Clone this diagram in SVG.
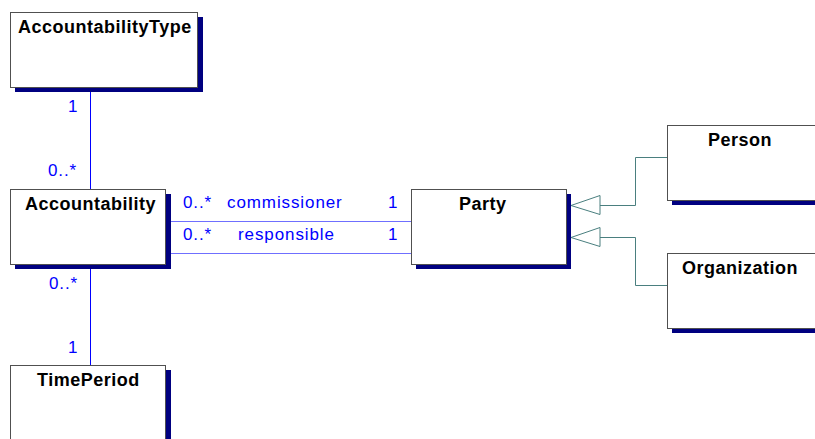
<svg xmlns="http://www.w3.org/2000/svg" width="815" height="439" viewBox="0 0 815 439">
  <style>
    .shadow { fill: #000080; }
    .box { fill: #ffffff; stroke: #505050; stroke-width: 1; }
    .name { font-family: "Liberation Sans", Arial, sans-serif; font-weight: bold; font-size: 18px; letter-spacing: 0.5px; fill: #000000; }
    .lbl { font-family: "Liberation Sans", Arial, sans-serif; font-size: 17px; letter-spacing: 0.9px; fill: #0000ff; }
    .assoc { stroke: #0000ff; stroke-width: 1; fill: none; }
    .assoc2 { stroke: #6f6fff; stroke-width: 1; fill: none; }
    .gen { stroke: #4a7f7f; stroke-width: 1; fill: none; }
    .genhead { stroke: #4a7f7f; stroke-width: 1; fill: #ffffff; }
  </style>
  <rect width="815" height="439" fill="#ffffff"/>

  <g id="connectors">
    <!-- AccountabilityType 1 — 0..* Accountability -->
    <line class="assoc" x1="90.5" y1="92" x2="90.5" y2="189"/>
    <!-- Accountability 0..* — 1 TimePeriod -->
    <line class="assoc" x1="90.5" y1="269" x2="90.5" y2="365"/>
    <!-- commissioner / responsible -->
    <line class="assoc2" x1="171" y1="221.5" x2="411" y2="221.5"/>
    <line class="assoc2" x1="171" y1="253.5" x2="411" y2="253.5"/>
    <!-- generalizations -->
    <polyline class="gen" points="600,205.5 635.5,205.5 635.5,157.5 667,157.5"/>
    <polyline class="gen" points="600,237.5 635.5,237.5 635.5,285.5 667,285.5"/>
    <polygon class="genhead" points="571,205.5 600,195.5 600,214.5"/>
    <polygon class="genhead" points="571,237.5 600,227.5 600,246.5"/>

    <text class="lbl" x="68" y="111.5">1</text>
    <text class="lbl" x="48" y="176">0..*</text>
    <text class="lbl" x="49" y="288.5">0..*</text>
    <text class="lbl" x="68" y="352.5">1</text>
    <text class="lbl" x="183" y="208">0..*</text>
    <text class="lbl" x="227" y="208">commissioner</text>
    <text class="lbl" x="388" y="208">1</text>
    <text class="lbl" x="183" y="240">0..*</text>
    <text class="lbl" x="238" y="240">responsible</text>
    <text class="lbl" x="388" y="240">1</text>
  </g>

  <g id="AccountabilityType">
    <rect class="shadow" x="15" y="17" width="188" height="75"/>
    <rect class="box" x="10.5" y="12.5" width="187" height="75"/>
    <text class="name" x="18" y="33">AccountabilityType</text>
  </g>

  <g id="Accountability">
    <rect class="shadow" x="15" y="194" width="156" height="75"/>
    <rect class="box" x="10.5" y="189.5" width="155" height="75"/>
    <text class="name" x="25" y="210">Accountability</text>
  </g>

  <g id="TimePeriod">
    <rect class="shadow" x="15" y="370" width="156" height="80"/>
    <rect class="box" x="10.5" y="365.5" width="155" height="80"/>
    <text class="name" x="37" y="386">TimePeriod</text>
  </g>

  <g id="Party">
    <rect class="shadow" x="416" y="194" width="155" height="75"/>
    <rect class="box" x="411.5" y="189.5" width="155" height="75"/>
    <text class="name" x="459" y="210">Party</text>
  </g>

  <g id="Person">
    <rect class="shadow" x="672" y="130" width="160" height="75"/>
    <rect class="box" x="667.5" y="125.5" width="160" height="75"/>
    <text class="name" x="708" y="146">Person</text>
  </g>

  <g id="Organization">
    <rect class="shadow" x="672" y="258" width="160" height="75"/>
    <rect class="box" x="667.5" y="253.5" width="160" height="75"/>
    <text class="name" x="682" y="274">Organization</text>
  </g>
</svg>
